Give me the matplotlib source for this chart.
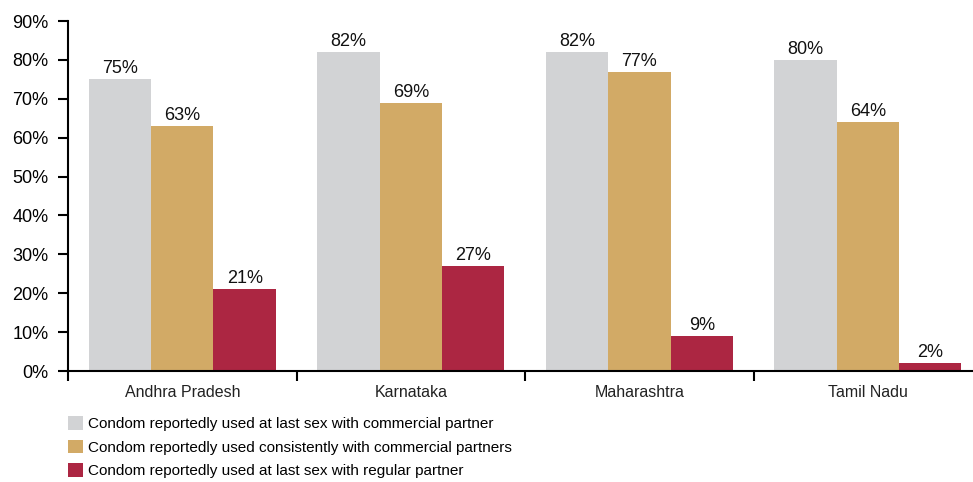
import matplotlib.pyplot as plt
import numpy as np

states = ["Andhra Pradesh", "Karnataka", "Maharashtra", "Tamil Nadu"]
last_sex_commercial = [75, 82, 82, 80]
consistent_commercial = [63, 69, 77, 64]
last_sex_regular = [21, 27, 9, 2]

series_names = [
    "Condom reportedly used at last sex with commercial partner",
    "Condom reportedly used consistently with commercial partners",
    "Condom reportedly used at last sex with regular partner",
]
colors = ["#D2D3D5", "#D2AA66", "#AC2642"]

plt.rcParams["font.family"] = ["Liberation Sans", "DejaVu Sans"]

fig = plt.figure(figsize=(9.73, 4.82), dpi=100)
ax = fig.add_axes([68 / 973, 111 / 482, 905 / 973, 350 / 482])

x = np.arange(len(states))
w = 0.273
handles = []
for i, (vals, c) in enumerate(zip([last_sex_commercial, consistent_commercial, last_sex_regular], colors)):
    b = ax.bar(x + (i - 1) * w, vals, w, color=c, label=series_names[i])
    handles.append(b)
    for xi, v in zip(x + (i - 1) * w, vals):
        ax.text(xi, v + 0.5, f"{v}%", ha="center", va="bottom",
                fontsize=13, color="#111111")

ax.set_ylim(0, 90)
ax.set_xlim(-0.5, 3.46)
ax.set_yticks(range(0, 91, 10))
ax.set_yticklabels([f"{t}%" for t in range(0, 91, 10)], fontsize=13)
ax.set_xticks(np.arange(-0.5, 3.0, 1.0))
ax.set_xticklabels([])
ax.tick_params(axis="both", direction="out", length=7, width=1.5, color="black")
ax.tick_params(axis="y", pad=7)
for xi, s in zip(x, states):
    ax.text(xi, -3.6, s, ha="center", va="top", fontsize=11.5, color="#222222")

for side in ["top", "right"]:
    ax.spines[side].set_visible(False)
ax.spines["left"].set_linewidth(1.5)
ax.spines["bottom"].set_linewidth(1.5)

fig.legend(handles=handles, loc="upper left", bbox_to_anchor=(62 / 973, 1 - 410 / 482),
           frameon=False, ncol=1, handlelength=1.0, handleheight=1.0, handletextpad=0.3,
           labelspacing=0.55, borderaxespad=0, prop={"size": 11})

fig.savefig("out.png", dpi=100)
